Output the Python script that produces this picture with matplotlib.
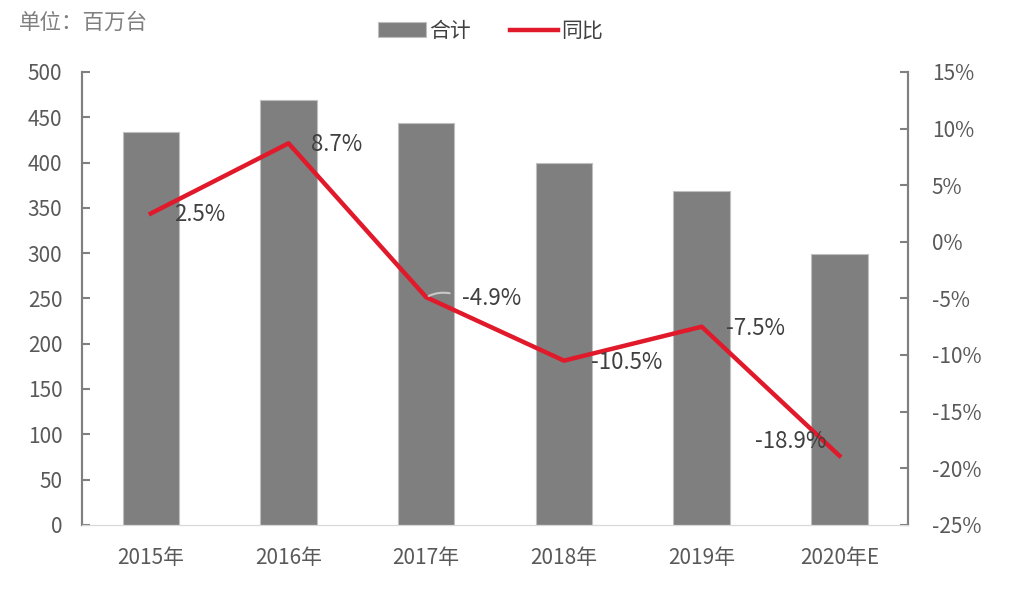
import matplotlib.pyplot as plt
from matplotlib.ticker import FuncFormatter

plt.rcParams['font.family'] = ['Noto Sans CJK SC', 'DejaVu Sans']

years = ['2015年', '2016年', '2017年', '2018年', '2019年', '2020年E']
totals = [434, 469, 444, 399, 369, 299]
yoy = [2.5, 8.7, -4.9, -10.5, -7.5, -18.9]
yoy_labels = ['2.5%', '8.7%', '-4.9%', '-10.5%', '-7.5%', '-18.9%']
# label offsets in points (dx, dy)
label_offsets = [(35, -1), (35, -1), (47, -1), (45, -1), (39, -1), (-35, 10)]

fig = plt.figure(figsize=(10.24, 5.95), dpi=100)
ax = fig.add_axes([0.080, 0.118, 0.807, 0.761])
ax2 = ax.twinx()

x = range(len(years))
ax.bar(x, totals, width=0.41, color='#7f7f7f', edgecolor='#bfbfbf', linewidth=0.8,
       label='合计', zorder=2)
ax.set_ylim(0, 500)
ax.set_yticks(range(0, 501, 50))
ax.set_xlim(-0.5, len(years) - 0.5)
ax.set_xticks(list(x))
ax.set_xticklabels(years)

ax2.plot(x, yoy, color='#e0192b', linewidth=3.2, label='同比', zorder=3)
ax2.set_ylim(-25, 15)
ax2.set_yticks(range(-25, 16, 5))
ax2.yaxis.set_major_formatter(FuncFormatter(lambda v, p: f'{v:.0f}%'))

for i, (v, t) in enumerate(zip(yoy, yoy_labels)):
    ax2.annotate(t, (i, v), xytext=label_offsets[i], textcoords='offset points',
                 ha='center', va='center', fontsize=16, color='#404040')
# small leader line for -4.9%
ax2.annotate('', (2, -4.9), xytext=(2.19, -4.6), textcoords='data',
             arrowprops=dict(arrowstyle='-', color='#c8c8c8', lw=1.5,
                             connectionstyle='arc3,rad=0.2'))

for a in (ax, ax2):
    a.spines['top'].set_visible(False)
    a.spines['bottom'].set_color('#d9d9d9')
    a.spines['left'].set_color('#808080')
    a.spines['right'].set_color('#808080')
    a.spines['left'].set_linewidth(1.5)
    a.spines['right'].set_linewidth(1.5)

ax.tick_params(axis='y', direction='in', length=6, width=1.5, color='#808080',
               labelsize=15, labelcolor='#595959', pad=14)
ax.tick_params(axis='x', length=0, labelsize=15, labelcolor='#595959', pad=16)
ax2.tick_params(axis='y', direction='in', length=6, width=1.5, color='#808080',
                labelsize=15, labelcolor='#595959', pad=17)

h1, l1 = ax.get_legend_handles_labels()
h2, l2 = ax2.get_legend_handles_labels()
fig.legend(h1 + h2, l1 + l2, loc='center', bbox_to_anchor=(0.479, 0.948), ncol=2,
           frameon=False, fontsize=15, handlelength=2.3, handletextpad=0.15,
           columnspacing=1.9, labelcolor='#404040')

fig.text(0.018, 0.962, '单位：百万台', fontsize=15.5, color='#7f7f7f', va='center')

fig.savefig('out.png', dpi=100)
